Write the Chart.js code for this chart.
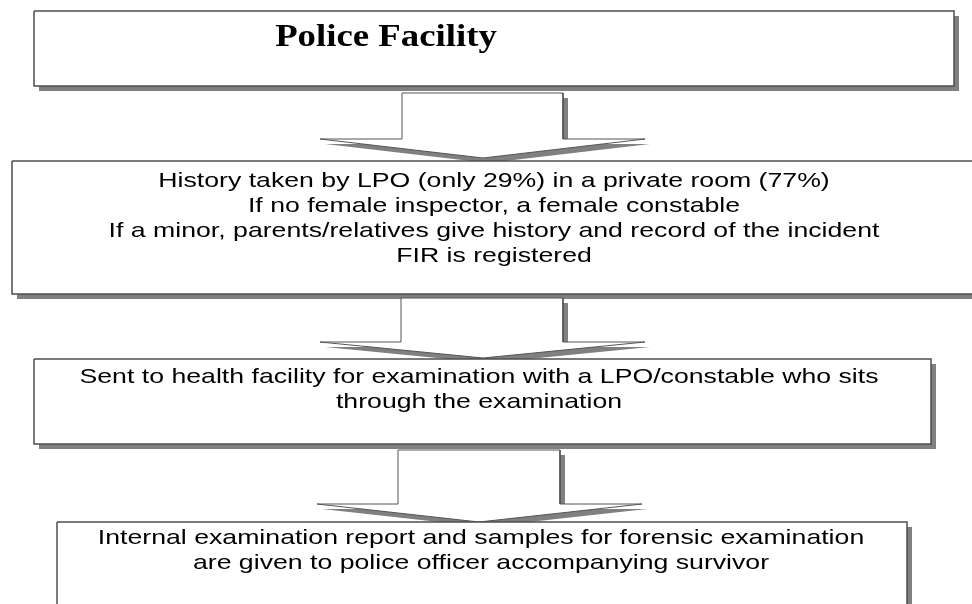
<!DOCTYPE html>
<html>

<head>
    <meta charset="UTF-8">
    <title>Police Facility</title>
    <script src="https://cdn.jsdelivr.net/npm/chart.js@4.4.1/dist/chart.umd.min.js"></script>
    <style>
        body { margin: 0; background: #fff; }
        canvas { display: block; }
    </style>
</head>

<body>
    <canvas id="chart" width="972" height="604"></canvas>

    <script>
        // boxes of the flow (page units, y grows downward)
        var boxLeft = [34, 12, 34, 57];
        var boxTop = [11, 161, 359, 522];
        var boxRight = [954, 985, 931, 907];
        var boxBottom = [86, 294, 444, 625];

        // block arrows between the boxes
        var arrowTop = [93, 298, 450];
        var arrowHeadY = [139, 342, 504];
        var arrowTipY = [158, 358, 522];
        var shaftLeft = [402, 401, 398];
        var shaftRight = [563, 563, 560];
        var headLeft = [320, 320, 317];
        var headRight = [645, 645, 642];
        var tipX = [483, 483, 479];

        // text in the boxes
        var titleText = 'Police Facility';
        var titleX = 386, titleY = 46;
        var boxLines = [
            ['History taken by LPO (only 29%) in a private room (77%)',
             'If no female inspector, a female constable',
             'If a minor, parents/relatives give history and record of the incident',
             'FIR is registered'],
            ['Sent to health facility for examination with a LPO/constable who sits',
             'through the examination'],
            ['Internal examination report and samples for forensic examination',
             'are given to police officer accompanying survivor']
        ];
        var linesX = [494, 479, 481];
        var linesY = [186.5, 383, 544];
        var lineGap = 25.3;

        var shadow = 5;
        // the figure text runs wider than the plain fonts
        var titleStretch = 1.15;
        var bodyStretch = 1.27;

        function boxPoints(i, d) {
            return [
                { x: boxLeft[i] + d, y: boxTop[i] + d },
                { x: boxRight[i] + d, y: boxTop[i] + d },
                { x: boxRight[i] + d, y: boxBottom[i] + d },
                { x: boxLeft[i] + d, y: boxBottom[i] + d },
                { x: boxLeft[i] + d, y: boxTop[i] + d }
            ];
        }

        function arrowPoints(i, d) {
            return [
                { x: shaftLeft[i] + d, y: arrowTop[i] + d },
                { x: shaftRight[i] + d, y: arrowTop[i] + d },
                { x: shaftRight[i] + d, y: arrowHeadY[i] + d },
                { x: headRight[i] + d, y: arrowHeadY[i] + d },
                { x: tipX[i] + d, y: arrowTipY[i] + d },
                { x: headLeft[i] + d, y: arrowHeadY[i] + d },
                { x: shaftLeft[i] + d, y: arrowHeadY[i] + d },
                { x: shaftLeft[i] + d, y: arrowTop[i] + d }
            ];
        }

        function shape(points, fillColor, lineColor, lineWidth) {
            return {
                data: points,
                fill: 'shape',
                backgroundColor: fillColor,
                borderColor: lineColor,
                borderWidth: lineWidth,
                pointRadius: 0,
                tension: 0,
                clip: false
            };
        }

        // draw order: each box with its shadow, then the arrow below it
        var datasets = [];
        for (var i = 0; i < boxLeft.length; i++) {
            datasets.push(shape(boxPoints(i, shadow), '#808080', '#808080', 0));
            datasets.push(shape(boxPoints(i, 0), '#ffffff', '#4d4d4d', 1.5));
            if (i < arrowTop.length) {
                datasets.push(shape(arrowPoints(i, shadow), '#808080', '#808080', 0));
                datasets.push(shape(arrowPoints(i, 0), '#ffffff', '#555555', 1));
            }
        }
        datasets.forEach(function (ds, k) { ds.order = datasets.length - k; });

        function stretchedText(ctx, t, x, y, s) {
            ctx.save();
            ctx.translate(x, y);
            ctx.scale(s, 1);
            ctx.fillText(t, 0, 0);
            ctx.restore();
        }

        var textPlugin = {
            id: 'boxText',
            afterDatasetsDraw: function (chart) {
                var ctx = chart.ctx;
                var sx = chart.scales.x, sy = chart.scales.y;
                ctx.save();
                ctx.fillStyle = '#000';
                ctx.textAlign = 'center';
                ctx.textBaseline = 'alphabetic';
                ctx.font = 'bold 32px "Liberation Serif"';
                stretchedText(ctx, titleText, sx.getPixelForValue(titleX), sy.getPixelForValue(titleY), titleStretch);
                ctx.font = '21px "Liberation Sans"';
                boxLines.forEach(function (lines, b) {
                    lines.forEach(function (t, j) {
                        stretchedText(ctx, t, sx.getPixelForValue(linesX[b]),
                            sy.getPixelForValue(linesY[b] + j * lineGap), bodyStretch);
                    });
                });
                ctx.restore();
            }
        };

        var ctx = document.getElementById('chart').getContext('2d');
        var chart = new Chart(ctx, {
            type: 'line',
            data: { datasets: datasets },
            options: {
                responsive: false,
                animation: false,
                layout: { padding: 0 },
                scales: {
                    x: { type: 'linear', min: 0, max: 972, display: false },
                    y: { type: 'linear', min: 0, max: 604, reverse: true, display: false }
                },
                plugins: {
                    legend: { display: false },
                    tooltip: { enabled: false }
                }
            },
            plugins: [textPlugin]
        });
    </script>
</body>

</html>
